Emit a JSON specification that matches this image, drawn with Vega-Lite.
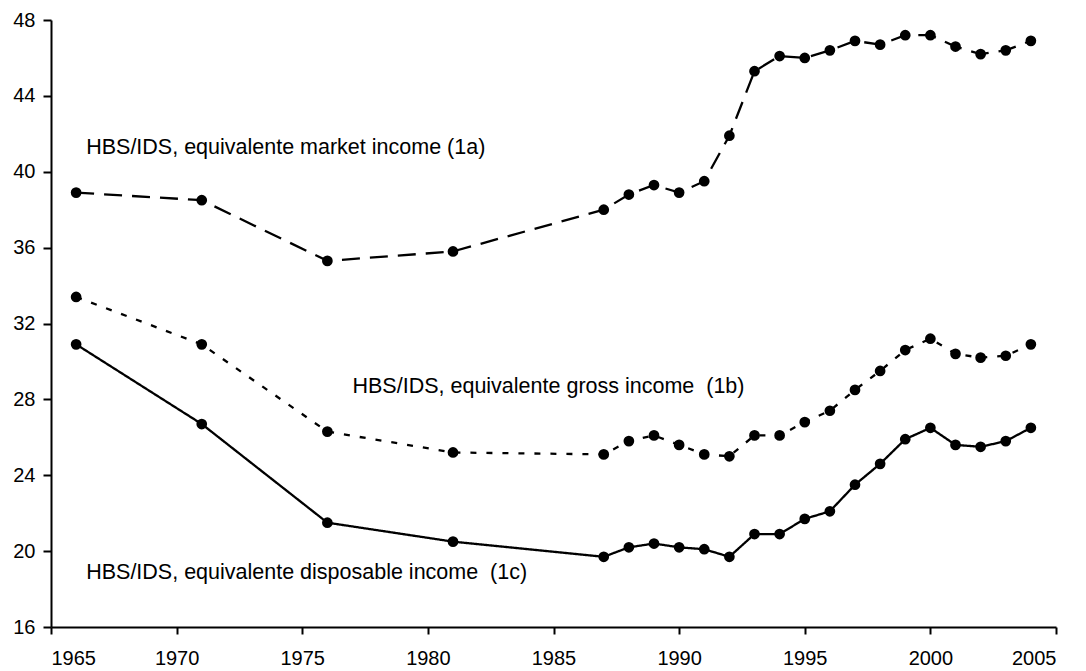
{
  "$schema": "https://vega.github.io/schema/vega-lite/v6.json",
  "autosize": {"type": "none"},
  "padding": {"left": 51, "top": 20, "right": 30, "bottom": 44},
  "width": 1005,
  "height": 607,
  "background": "white",
  "config": {
    "view": {"stroke": null},
    "font": "Liberation Sans",
    "axis": {
      "grid": false,
      "domainColor": "black",
      "domainWidth": 2,
      "tickColor": "black",
      "tickWidth": 2,
      "labelColor": "black",
      "labelFont": "Liberation Sans",
      "labelFontSize": 20,
      "title": null
    }
  },
  "datasets": {
    "series": [
      {"year": 1966, "series": "1a", "value": 38.9},
      {"year": 1971, "series": "1a", "value": 38.5},
      {"year": 1976, "series": "1a", "value": 35.3},
      {"year": 1981, "series": "1a", "value": 35.8},
      {"year": 1987, "series": "1a", "value": 38.0},
      {"year": 1988, "series": "1a", "value": 38.8},
      {"year": 1989, "series": "1a", "value": 39.3},
      {"year": 1990, "series": "1a", "value": 38.9},
      {"year": 1991, "series": "1a", "value": 39.5},
      {"year": 1992, "series": "1a", "value": 41.9},
      {"year": 1993, "series": "1a", "value": 45.3},
      {"year": 1994, "series": "1a", "value": 46.1},
      {"year": 1995, "series": "1a", "value": 46.0},
      {"year": 1996, "series": "1a", "value": 46.4},
      {"year": 1997, "series": "1a", "value": 46.9},
      {"year": 1998, "series": "1a", "value": 46.7},
      {"year": 1999, "series": "1a", "value": 47.2},
      {"year": 2000, "series": "1a", "value": 47.2},
      {"year": 2001, "series": "1a", "value": 46.6},
      {"year": 2002, "series": "1a", "value": 46.2},
      {"year": 2003, "series": "1a", "value": 46.4},
      {"year": 2004, "series": "1a", "value": 46.9},
      {"year": 1966, "series": "1b", "value": 33.4},
      {"year": 1971, "series": "1b", "value": 30.9},
      {"year": 1976, "series": "1b", "value": 26.3},
      {"year": 1981, "series": "1b", "value": 25.2},
      {"year": 1987, "series": "1b", "value": 25.1},
      {"year": 1988, "series": "1b", "value": 25.8},
      {"year": 1989, "series": "1b", "value": 26.1},
      {"year": 1990, "series": "1b", "value": 25.6},
      {"year": 1991, "series": "1b", "value": 25.1},
      {"year": 1992, "series": "1b", "value": 25.0},
      {"year": 1993, "series": "1b", "value": 26.1},
      {"year": 1994, "series": "1b", "value": 26.1},
      {"year": 1995, "series": "1b", "value": 26.8},
      {"year": 1996, "series": "1b", "value": 27.4},
      {"year": 1997, "series": "1b", "value": 28.5},
      {"year": 1998, "series": "1b", "value": 29.5},
      {"year": 1999, "series": "1b", "value": 30.6},
      {"year": 2000, "series": "1b", "value": 31.2},
      {"year": 2001, "series": "1b", "value": 30.4},
      {"year": 2002, "series": "1b", "value": 30.2},
      {"year": 2003, "series": "1b", "value": 30.3},
      {"year": 2004, "series": "1b", "value": 30.9},
      {"year": 1966, "series": "1c", "value": 30.9},
      {"year": 1971, "series": "1c", "value": 26.7},
      {"year": 1976, "series": "1c", "value": 21.5},
      {"year": 1981, "series": "1c", "value": 20.5},
      {"year": 1987, "series": "1c", "value": 19.7},
      {"year": 1988, "series": "1c", "value": 20.2},
      {"year": 1989, "series": "1c", "value": 20.4},
      {"year": 1990, "series": "1c", "value": 20.2},
      {"year": 1991, "series": "1c", "value": 20.1},
      {"year": 1992, "series": "1c", "value": 19.7},
      {"year": 1993, "series": "1c", "value": 20.9},
      {"year": 1994, "series": "1c", "value": 20.9},
      {"year": 1995, "series": "1c", "value": 21.7},
      {"year": 1996, "series": "1c", "value": 22.1},
      {"year": 1997, "series": "1c", "value": 23.5},
      {"year": 1998, "series": "1c", "value": 24.6},
      {"year": 1999, "series": "1c", "value": 25.9},
      {"year": 2000, "series": "1c", "value": 26.5},
      {"year": 2001, "series": "1c", "value": 25.6},
      {"year": 2002, "series": "1c", "value": 25.5},
      {"year": 2003, "series": "1c", "value": 25.8},
      {"year": 2004, "series": "1c", "value": 26.5}
    ],
    "labels": [
      {"year": 1966.4, "value": 41.25, "text": "HBS/IDS, equivalente market income (1a)"},
      {"year": 1977.0, "value": 28.67, "text": "HBS/IDS, equivalente gross income \u00a0(1b)"},
      {"year": 1966.4, "value": 18.86, "text": "HBS/IDS, equivalente disposable income \u00a0(1c)"}
    ]
  },
  "encoding": {
    "x": {
      "field": "year",
      "type": "quantitative",
      "scale": {"domain": [1965, 2005], "nice": false, "zero": false},
      "axis": {"values": [1965, 1970, 1975, 1980, 1985, 1990, 1995, 2000, 2005], "format": "d", "tickSize": 7, "labelPadding": 14}
    },
    "y": {
      "field": "value",
      "type": "quantitative",
      "scale": {"domain": [16, 48], "nice": false, "zero": false},
      "axis": {"values": [16, 20, 24, 28, 32, 36, 40, 44, 48], "tickSize": 8, "labelPadding": 8}
    }
  },
  "layer": [
    {
      "data": {"name": "series"},
      "mark": {"type": "line", "color": "black", "strokeWidth": 2.3},
      "encoding": {
        "detail": {"field": "series"},
        "strokeDash": {
          "field": "series",
          "type": "nominal",
          "scale": {"domain": ["1a", "1b", "1c"], "range": [[18, 10], [6, 10], [1, 0]]},
          "legend": null
        }
      }
    },
    {
      "data": {"name": "series"},
      "mark": {"type": "point", "filled": true, "shape": "circle", "color": "black", "opacity": 1, "size": 115}
    },
    {
      "data": {"name": "labels"},
      "mark": {"type": "text", "align": "left", "baseline": "middle", "fontSize": 21.5, "font": "Liberation Sans", "color": "black"},
      "encoding": {"text": {"field": "text"}}
    }
  ]
}
